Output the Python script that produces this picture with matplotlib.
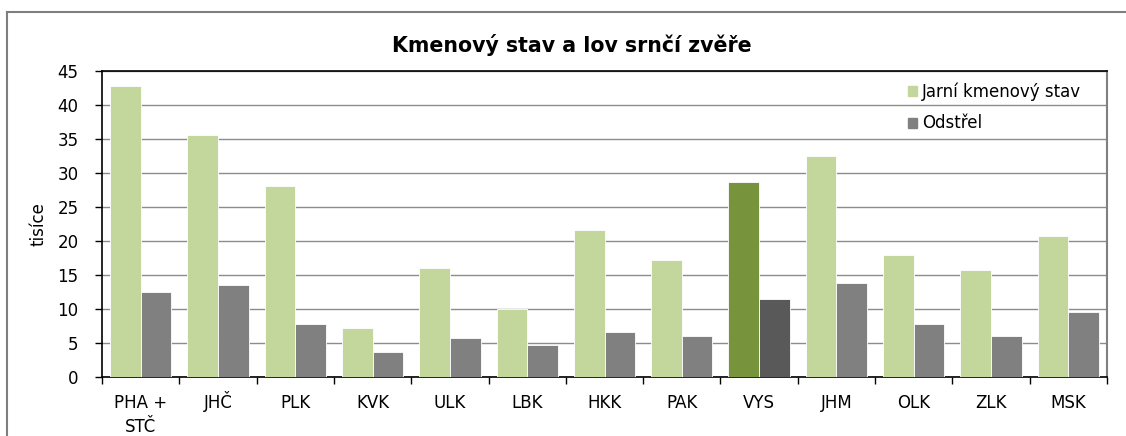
import matplotlib.pyplot as plt
from matplotlib.lines import Line2D
from matplotlib.transforms import ScaledTranslation
import numpy as np

regions = ["PHA +\nSTČ", "JHČ", "PLK", "KVK", "ULK", "LBK", "HKK",
           "PAK", "VYS", "JHM", "OLK", "ZLK", "MSK"]
jarni = [42.7, 35.6, 28.0, 7.2, 15.9, 10.0, 21.6, 17.2, 28.6, 32.5, 17.9, 15.7, 20.7]
odstrel = [12.5, 13.5, 7.7, 3.6, 5.6, 4.7, 6.6, 5.9, 11.4, 13.7, 7.7, 5.9, 9.5]
highlight = "VYS"

light_green, dark_green = "#C3D69B", "#77933C"
light_gray, dark_gray = "#808080", "#595959"

plt.rcParams['font.family'] = ['DejaVu Sans']
fs = 12

fig = plt.figure(figsize=(11.26, 4.36), dpi=100)
W, H = 1126, 436
ax = fig.add_axes([102 / W, 1 - 376.5 / H, (1107 - 102) / W, (376.5 - 70.7) / H])

x = np.arange(len(regions))
bw = 0.397
c1 = [dark_green if r == highlight else light_green for r in regions]
c2 = [dark_gray if r == highlight else light_gray for r in regions]
ax.bar(x - bw / 2, jarni, bw, color=c1, edgecolor="white", linewidth=0.6, zorder=3)
ax.bar(x + bw / 2, odstrel, bw, color=c2, edgecolor="white", linewidth=0.6, zorder=3)

ax.set_xlim(-0.5, len(regions) - 0.5)
ax.set_ylim(0, 45)
ax.set_yticks(range(0, 46, 5))
ax.yaxis.grid(True, color="#8c8c8c", linewidth=1.0, zorder=0)
ax.set_axisbelow(True)

# category labels, aligned on the baseline of their first line
ax.set_xticks(np.arange(-0.5, len(regions)))
ax.set_xticklabels([])
ax.tick_params(axis="x", length=5, width=1, direction="out")
for xi, name in zip(x, regions):
    nlines = name.count("\n")
    dy = -(31.5 + 24 * nlines) / 100
    tr = ax.get_xaxis_transform() + ScaledTranslation(0, dy, fig.dpi_scale_trans)
    ax.text(xi, 0, name, transform=tr, ha="center", va="baseline",
            fontsize=fs, linespacing=1.45)
ax.tick_params(axis="y", length=5, width=1, labelsize=fs, pad=12)

for side in ["left", "bottom", "top"]:
    ax.spines[side].set_color("black")
    ax.spines[side].set_linewidth(1.2)
ax.spines["right"].set_color("#808080")
ax.spines["right"].set_linewidth(1.5)

ax.set_ylabel("tisíce", fontsize=fs, labelpad=7)
fig.text(572 / W, 1 - 45 / H, "Kmenový stav a lov srnčí zvěře", ha="center",
         va="center", fontsize=14.8, fontweight="bold")

handles = [plt.Rectangle((0, 0), 1, 1, color=light_green),
           plt.Rectangle((0, 0), 1, 1, color=light_gray)]
ax.legend(handles, ["Jarní kmenový stav", "Odstřel"], loc="upper left",
          bbox_to_anchor=(0.787, 1.01), frameon=False, fontsize=fs,
          handlelength=0.55, handleheight=0.55, handletextpad=0.3,
          labelspacing=0.8)

# outer chart frame (only top and left visible)
fig.add_artist(Line2D([7 / W, 1], [1 - 12.5 / H, 1 - 12.5 / H],
                      color="#7f7f7f", linewidth=1.5))
fig.add_artist(Line2D([7 / W, 7 / W], [0, 1 - 12.5 / H],
                      color="#7f7f7f", linewidth=1.5))

fig.savefig("out.png", dpi=100)
